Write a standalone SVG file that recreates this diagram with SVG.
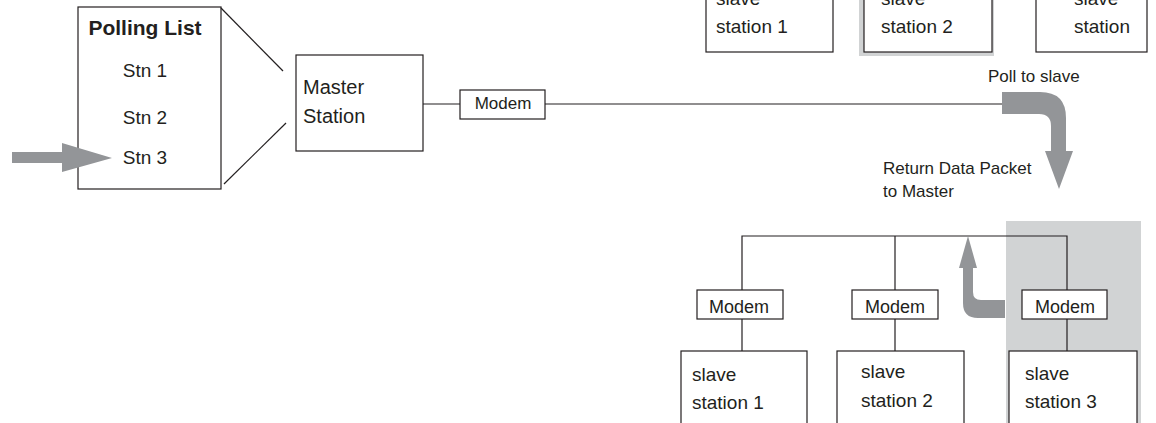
<svg xmlns="http://www.w3.org/2000/svg" width="1156" height="423" viewBox="0 0 1156 423">
<style>
.box{fill:#fff;stroke:#231f20;stroke-width:1.2}
.ln{fill:none;stroke:#231f20;stroke-width:1.2}
.arr{fill:#939598;stroke:none}
.shade{fill:#d1d3d4;stroke:none}
text{font-family:"Liberation Sans",Arial,sans-serif;fill:#231f20}
.t19{font-size:19px}
.t20{font-size:20px}
.t17{font-size:17px}
.m17{font-size:17px;text-anchor:middle}
.m18{font-size:18px;text-anchor:middle}
</style>
<rect width="1156" height="423" fill="#fff"/>
<g id="shading">
<rect class="shade" x="859" y="-5" width="135" height="61"/>
<rect class="shade" x="1006" y="221" width="135" height="210"/>
</g>
<g id="polling-list">
<rect class="box" x="78" y="7" width="143" height="182"/>
<text x="145" y="35" style="font-size:21px;font-weight:bold;text-anchor:middle">Polling List</text>
<text class="t19" x="145" y="77" text-anchor="middle">Stn 1</text>
<text class="t19" x="145" y="124" text-anchor="middle">Stn 2</text>
<text class="t19" x="145" y="164" text-anchor="middle">Stn 3</text>
</g>
<g id="master-station">
<rect class="box" x="296" y="55" width="127" height="96"/>
<text class="t20" x="303" y="94">Master</text>
<text class="t20" x="303" y="123">Station</text>
</g>
<g id="master-modem">
<rect class="box" x="460" y="90" width="85" height="29"/>
<text class="m17" x="503" y="109">Modem</text>
</g>
<g id="top-slave-1">
<rect class="box" x="706" y="-5" width="127" height="57"/>
<text class="t19" x="716" y="5">slave</text>
<text class="t19" x="716" y="33">station 1</text>
</g>
<g id="top-slave-2">
<rect class="box" x="864" y="-5" width="128" height="57"/>
<text class="t19" x="881" y="5">slave</text>
<text class="t19" x="881" y="33">station 2</text>
</g>
<g id="top-slave-3">
<rect class="box" x="1036" y="-5" width="111" height="57"/>
<text class="t19" x="1074" y="5">slave</text>
<text class="t19" x="1074" y="33">station</text>
</g>
<g id="labels">
<text class="t17" x="988" y="82">Poll to slave</text>
<text class="t17" x="883" y="174">Return Data Packet</text>
<text class="t17" x="883" y="197">to Master</text>
</g>
<g id="modem-1">
<rect class="box" x="697" y="290" width="86" height="29"/>
<text class="m18" x="739" y="313">Modem</text>
</g>
<g id="modem-2">
<rect class="box" x="852" y="290" width="86" height="29"/>
<text class="m18" x="895" y="313">Modem</text>
</g>
<g id="modem-3">
<rect class="box" x="1022" y="290" width="85" height="29"/>
<text class="m18" x="1065" y="313">Modem</text>
</g>
<g id="slave-1">
<rect class="box" x="681" y="351" width="126" height="80"/>
<text class="t19" x="692" y="381">slave</text>
<text class="t19" x="692" y="409">station 1</text>
</g>
<g id="slave-2">
<rect class="box" x="837" y="351" width="127" height="80"/>
<text class="t19" x="861" y="378">slave</text>
<text class="t19" x="861" y="407">station 2</text>
</g>
<g id="slave-3">
<rect class="box" x="1009" y="351" width="128" height="80"/>
<text class="t19" x="1025" y="380">slave</text>
<text class="t19" x="1025" y="408">station 3</text>
</g>
<g id="connectors">
<line class="ln" x1="221" y1="8" x2="283" y2="71"/>
<line class="ln" x1="224" y1="184" x2="286" y2="123"/>
<line class="ln" x1="423" y1="104" x2="460" y2="104"/>
<line class="ln" x1="545" y1="104" x2="1004" y2="104"/>
<polyline class="ln" points="742,290 742,236 1067,236 1067,290"/>
<line class="ln" x1="895" y1="236" x2="895" y2="290"/>
<line class="ln" x1="742" y1="319" x2="742" y2="351"/>
<line class="ln" x1="895" y1="319" x2="895" y2="351"/>
<line class="ln" x1="1067" y1="319" x2="1067" y2="351"/>
<path class="arr" d="M12,152 L62,152 L62,143 L112,158 L62,172 L62,163 L12,163 Z"/>
<path class="arr" d="M1002,92 L1040,92 Q1066,92 1066,118 L1066,151 L1073,151 L1059,189 L1045,151 L1051,151 L1051,126 Q1051,114 1039,114 L1002,114 Z"/>
<path class="arr" d="M968,236 L977,268 L973,268 L973,292 Q973,300 981,300 L1005,300 L1005,318 L978,318 Q963,318 963,303 L963,268 L959,268 Z"/>
</g>
</svg>
